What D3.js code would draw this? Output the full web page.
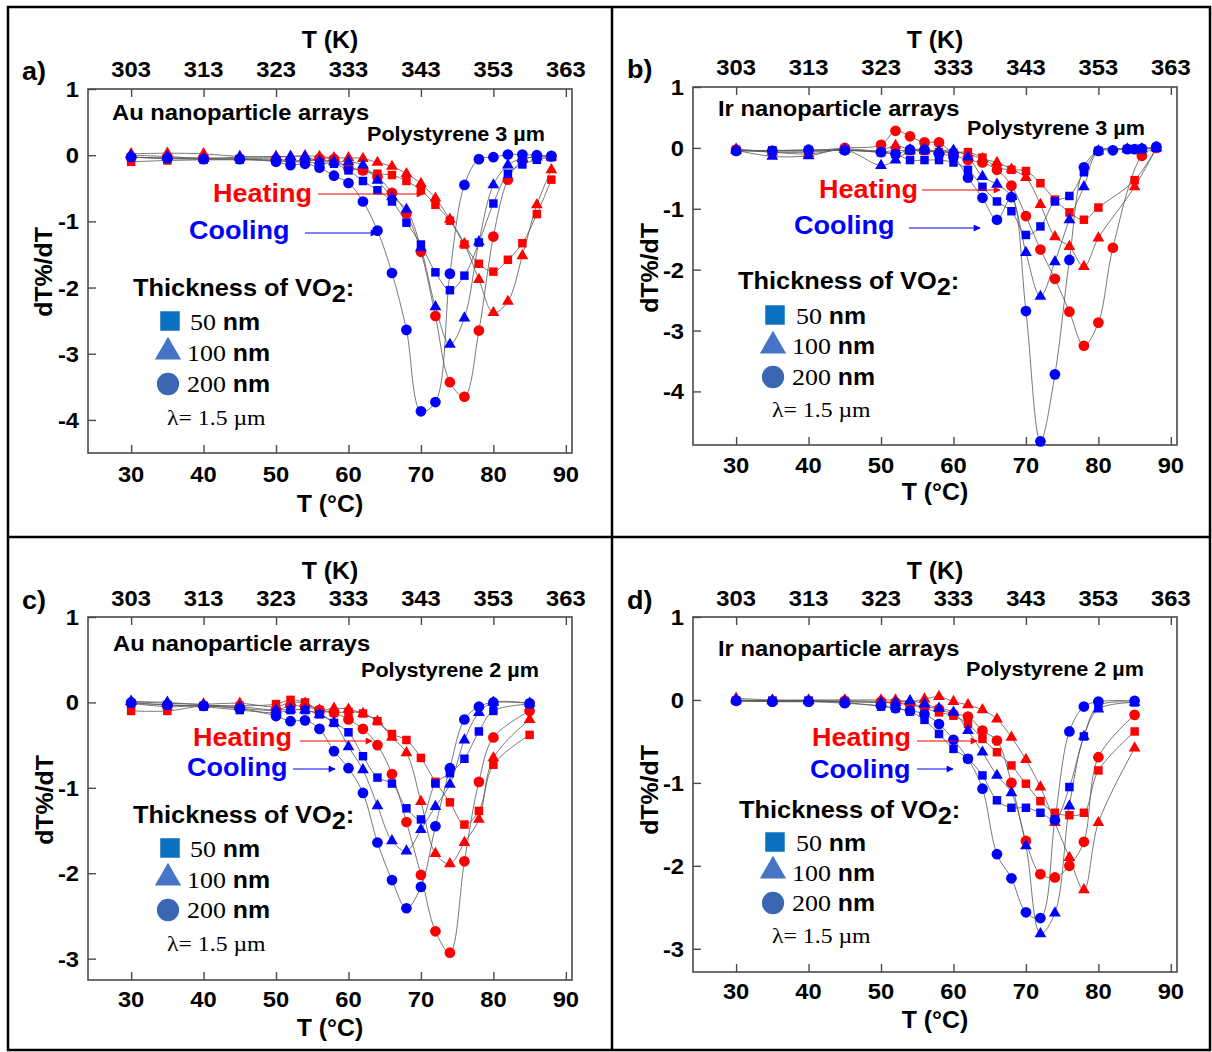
<!DOCTYPE html>
<html><head><meta charset="utf-8">
<script src="https://cdn.jsdelivr.net/npm/d3@7"></script>
<style>body{margin:0;background:#fff}svg{display:block}</style>
</head><body>
<script>
// ---------- DATA ----------
const celsiusTicks = [30,40,50,60,70,80,90];
const kelvinTicks = ["303","313","323","333","343","353","363"];

// Panel a: Au nanoparticle arrays, Polystyrene 3 µm
const tempsA = [30,35,40,45,50,52,54,56,58,60,62,64,66,68,70,72,74,76,78,80,82,84,86,88];
const aHeat50  = [-0.10,-0.08,-0.07,-0.07,-0.08,-0.09,-0.08,-0.08,-0.09,-0.18,-0.23,-0.28,-0.30,-0.39,-0.53,-0.75,-0.99,-1.35,-1.64,-1.76,-1.58,-1.33,-0.89,-0.37];
const aHeat100 = [0.02,0.03,0.02,-0.02,-0.02,-0.02,-0.01,-0.02,-0.04,-0.04,-0.05,-0.11,-0.17,-0.28,-0.43,-0.65,-0.97,-1.34,-1.88,-2.38,-2.21,-1.52,-0.75,-0.22];
const aHeat200 = [-0.03,-0.04,-0.04,-0.05,-0.06,-0.08,-0.09,-0.05,-0.06,-0.20,-0.23,-0.33,-0.57,-0.88,-1.46,-2.43,-3.43,-3.65,-2.65,-1.23,-0.37,-0.08,-0.02,-0.02];
const aCool50  = [-0.03,-0.05,-0.06,-0.06,-0.08,-0.10,-0.10,-0.12,-0.13,-0.23,-0.39,-0.53,-0.70,-1.02,-1.35,-1.77,-2.04,-1.82,-1.32,-0.73,-0.28,-0.14,-0.07,-0.03];
const aCool100 = [0.00,-0.02,-0.05,-0.03,-0.03,-0.02,-0.02,-0.09,-0.10,-0.10,-0.15,-0.38,-0.63,-0.82,-1.40,-2.29,-2.86,-2.46,-1.31,-0.45,-0.15,-0.05,-0.03,-0.03];
const aCool200 = [-0.03,-0.05,-0.06,-0.06,-0.10,-0.15,-0.13,-0.19,-0.31,-0.42,-0.70,-1.14,-1.78,-2.64,-3.87,-3.73,-1.79,-0.45,-0.06,-0.03,0.01,0.01,0.00,-0.01];

// Panel b: Ir nanoparticle arrays, Polystyrene 3 µm
const tempsB = [30,35,40,45,50,52,54,56,58,60,62,64,66,68,70,72,74,76,78,80,82,84,85,86,88];
const bHeat50  = [-0.03,-0.07,-0.07,-0.03,-0.07,-0.04,-0.05,-0.05,-0.07,-0.08,-0.07,-0.16,-0.32,-0.36,-0.38,-0.58,-0.85,-1.06,-1.18,-0.98,null,null,-0.53,null,0.00];
const bHeat100 = [-0.02,-0.07,-0.10,-0.02,-0.04,0.04,-0.03,-0.05,-0.05,-0.07,-0.10,-0.18,-0.24,-0.35,-0.49,-0.93,-1.46,-1.62,-1.95,-1.48,null,null,-0.64,null,0.00];
const bHeat200 = [-0.03,-0.05,-0.05,0.00,0.05,0.28,0.19,0.09,0.09,-0.10,-0.20,-0.24,-0.36,-0.62,-1.12,-1.67,-2.15,-2.69,-3.25,-2.87,-1.64,null,null,-0.13,0.00];
const bCool50  = [-0.05,-0.04,-0.04,-0.04,-0.07,-0.10,-0.20,-0.20,-0.20,-0.24,-0.36,-0.64,-0.88,-1.04,-1.43,-1.29,-0.88,-0.79,-0.40,-0.05,null,-0.02,null,-0.02,0.00];
const bCool100 = [-0.04,-0.14,-0.13,-0.03,-0.29,-0.20,-0.05,-0.03,-0.05,-0.04,-0.15,-0.47,-0.60,-0.80,-1.72,-2.44,-1.87,-1.18,-0.64,-0.05,null,-0.02,null,-0.02,0.00];
const bCool200 = [-0.05,-0.05,-0.03,-0.04,-0.07,-0.10,-0.03,-0.03,-0.10,-0.15,-0.49,-0.82,-1.18,-0.81,-2.68,-4.82,-3.72,-1.84,-0.32,-0.05,-0.04,-0.02,-0.02,-0.01,0.02];

// Panel c: Au nanoparticle arrays, Polystyrene 2 µm
const tempsC = [30,35,40,45,50,52,54,56,58,60,62,64,66,68,70,72,74,76,78,80,85];
const cHeat50  = [-0.10,-0.10,-0.04,-0.04,-0.02,0.03,0.00,-0.09,-0.12,-0.11,-0.13,-0.22,-0.37,-0.44,-0.65,-0.93,-1.17,-1.43,-1.27,-0.73,-0.38];
const cHeat100 = [0.01,-0.01,-0.02,-0.01,-0.05,0.00,-0.01,-0.09,-0.07,-0.08,-0.13,-0.22,-0.41,-0.59,-1.16,-1.77,-1.89,-1.64,-1.37,-0.65,-0.20];
const cHeat200 = [-0.01,-0.05,-0.04,-0.07,-0.09,-0.04,-0.05,-0.09,-0.12,-0.20,-0.31,-0.50,-0.84,-1.40,-2.02,-2.68,-2.93,-1.86,-0.93,-0.41,-0.10];
const cCool50  = [-0.01,-0.03,-0.05,-0.09,-0.12,-0.09,-0.09,-0.14,-0.24,-0.35,-0.63,-0.88,-0.95,-1.24,-1.37,-0.95,-0.83,-0.66,-0.34,-0.10,-0.02];
const cCool100 = [0.01,0.00,-0.03,-0.05,-0.09,-0.08,-0.09,-0.14,-0.24,-0.52,-0.79,-1.21,-1.62,-1.74,-1.49,-1.22,-0.96,-0.44,-0.12,0.00,-0.01];
const cCool200 = [0.00,-0.03,-0.04,-0.07,-0.16,-0.22,-0.21,-0.31,-0.57,-0.77,-1.06,-1.64,-2.08,-2.41,-2.16,-1.45,-0.77,-0.20,-0.05,0.00,-0.01];

// Panel d: Ir nanoparticle arrays, Polystyrene 2 µm
const tempsD = [30,35,40,45,50,52,54,56,58,60,62,64,66,68,70,72,74,76,78,80,85];
const dHeat50  = [-0.01,-0.01,-0.01,-0.02,-0.03,-0.04,-0.06,-0.10,-0.15,-0.19,-0.29,-0.47,-0.63,-0.79,-1.01,-1.22,-1.36,-1.39,-1.36,-0.85,-0.38];
const dHeat100 = [0.02,0.00,0.00,0.00,0.00,0.00,-0.02,0.01,0.04,-0.02,-0.06,-0.12,-0.23,-0.45,-0.72,-1.05,-1.48,-1.90,-2.29,-1.48,-0.58];
const dHeat200 = [-0.01,-0.02,-0.02,-0.01,-0.02,-0.03,-0.05,-0.08,-0.11,-0.17,-0.20,-0.37,-0.49,-1.00,-1.70,-2.10,-2.14,-2.00,-1.71,-0.69,-0.18];
const dCool50  = [-0.01,-0.01,-0.01,-0.03,-0.08,-0.10,-0.14,-0.24,-0.41,-0.59,-0.71,-0.91,-1.21,-1.30,-1.30,-1.36,-1.44,-1.05,-0.44,-0.07,-0.03];
const dCool100 = [0.00,-0.01,-0.01,-0.02,-0.03,-0.03,-0.01,-0.05,-0.10,-0.15,-0.37,-0.63,-0.91,-1.12,-1.76,-2.82,-2.57,-1.28,-0.44,-0.11,-0.03];
const dCool200 = [-0.01,-0.02,-0.02,-0.04,-0.07,-0.10,-0.13,-0.17,-0.29,-0.48,-0.71,-1.07,-1.86,-2.15,-2.56,-2.63,-1.45,-0.38,-0.08,-0.02,-0.01];

const thicknessLabels = ["50","100","200"];

// ---------- LAYOUT ----------
const W = 1212, H = 1052;
const SX = 1.08; // horizontal stretch of text in the reference
const svg = d3.select("body").append("svg").attr("width", W).attr("height", H);

const defs = svg.append("defs");
[["arrRed","#ff0000"],["arrBlue","#0000ff"]].forEach(([id,c])=>{
  defs.append("marker").attr("id",id).attr("viewBox","0 0 10 10").attr("refX",9).attr("refY",5)
    .attr("markerWidth",9).attr("markerHeight",7).attr("markerUnits","userSpaceOnUse").attr("orient","auto")
    .append("path").attr("d","M0,0 L10,5 L0,10 z").attr("fill",c);
});

// outer border and dividers
svg.append("rect").attr("x",8).attr("y",7).attr("width",1202).attr("height",1043)
  .attr("fill","none").attr("stroke","#000").attr("stroke-width",2.5);
svg.append("line").attr("x1",612).attr("x2",612).attr("y1",7).attr("y2",1050).attr("stroke","#000").attr("stroke-width",2.5);
svg.append("line").attr("x1",8).attr("x2",1210).attr("y1",537).attr("y2",537).attr("stroke","#000").attr("stroke-width",2.5);

const SANS = "'Liberation Sans', Arial, sans-serif";
const SERIF = "'Liberation Serif', 'Times New Roman', serif";

function txt(g, x, y, s, o={}) {
  const t = g.append("text")
    .attr("transform", `translate(${x},${y}) scale(${SX},1)`)
    .attr("font-family", o.family || SANS)
    .attr("font-weight", o.weight || "bold")
    .attr("font-size", o.size || 22)
    .attr("fill", o.fill || "#000")
    .attr("text-anchor", o.anchor || "start");
  if (s !== null) t.text(s);
  return t;
}

const panels = [
  { letter:"a)", temps:tempsA, heat:[aHeat50,aHeat100,aHeat200], cool:[aCool50,aCool100,aCool200],
    xr:[88,572], yr:[89,453], yd:[1,-4.5], yTicks:[1,0,-1,-2,-3,-4],
    np:"Au nanoparticle arrays", ps:"Polystyrene 3 µm",
    t:{letter:[22,80], tk:[330,48], topLab:77, botLab:482, tc:[330,512], yl:[44,272],
       np:[112,120], ps:[367,141], heat:[213,202], heatArr:[318,423,194], cool:[189,239], coolArr:[305,377,233],
       thick:[133,296], sq:[170,321], l50:[190,330], tri:[168,352], l100:[187,361], cir:[168,384], l200:[187,392], lam:[167,425]} },
  { letter:"b)", temps:tempsB, heat:[bHeat50,bHeat100,bHeat200], cool:[bCool50,bCool100,bCool200],
    xr:[693,1177], yr:[87,445], yd:[1,-4.88], yTicks:[1,0,-1,-2,-3,-4],
    np:"Ir nanoparticle arrays", ps:"Polystyrene 3 µm",
    t:{letter:[627,78], tk:[935,48], topLab:75, botLab:473, tc:[935,500], yl:[650,268],
       np:[718,116], ps:[967,135], heat:[819,198], heatArr:[922,1000,190], cool:[794,234], coolArr:[909,980,228],
       thick:[738,289], sq:[775,315], l50:[796,324], tri:[773,346], l100:[792,354], cir:[773,377], l200:[792,385], lam:[772,417]} },
  { letter:"c)", temps:tempsC, heat:[cHeat50,cHeat100,cHeat200], cool:[cCool50,cCool100,cCool200],
    xr:[88,572], yr:[617,980], yd:[1,-3.25], yTicks:[1,0,-1,-2,-3],
    np:"Au nanoparticle arrays", ps:"Polystyrene 2 µm",
    t:{letter:[22,609], tk:[330,579], topLab:606, botLab:1007, tc:[330,1036], yl:[45,800],
       np:[113,651], ps:[361,677], heat:[193,746], heatArr:[300,372,741], cool:[187,776], coolArr:[293,335,769],
       thick:[133,823], sq:[170,848], l50:[190,857], tri:[168,878], l100:[187,888], cir:[168,910], l200:[187,918], lam:[167,951]} },
  { letter:"d)", temps:tempsD, heat:[dHeat50,dHeat100,dHeat200], cool:[dCool50,dCool100,dCool200],
    xr:[693,1177], yr:[617,972], yd:[1,-3.28], yTicks:[1,0,-1,-2,-3],
    np:"Ir nanoparticle arrays", ps:"Polystyrene 2 µm",
    t:{letter:[627,609], tk:[935,579], topLab:606, botLab:999, tc:[935,1028], yl:[650,790],
       np:[718,656], ps:[966,676], heat:[812,746], heatArr:[917,977,741], cool:[810,778], coolArr:[917,953,769],
       thick:[739,818], sq:[775,842], l50:[796,851], tri:[773,871], l100:[792,881], cir:[773,903], l200:[792,911], lam:[772,943]} }
];

const symTypes = [d3.symbolSquare, d3.symbolTriangle, d3.symbolCircle];
const symSizes = [72, 60, 90];
const legendColors = ["#0a70c0", "#4674c6", "#3b66b2"];
const legendSizes = [380, 300, 390];

panels.forEach(p => {
  const g = svg.append("g");
  const x = d3.scaleLinear().domain([24.05, 90.85]).range(p.xr);
  const y = d3.scaleLinear().domain(p.yd).range(p.yr);
  const [x0,x1] = p.xr, [y0,y1] = p.yr;
  const T = p.t;

  // frame
  g.append("rect").attr("x",x0).attr("y",y0).attr("width",x1-x0).attr("height",y1-y0)
    .attr("fill","none").attr("stroke","#4a4a4a").attr("stroke-width",1.6);

  // axes with inward ticks
  const bot = g.append("g").attr("transform",`translate(0,${y1})`)
    .call(d3.axisTop(x).tickValues(celsiusTicks).tickSize(8).tickFormat(""));
  const top = g.append("g").attr("transform",`translate(0,${y0})`)
    .call(d3.axisBottom(x).tickValues(celsiusTicks).tickSize(8).tickFormat(""));
  const left = g.append("g").attr("transform",`translate(${x0},0)`)
    .call(d3.axisRight(y).tickValues(p.yTicks).tickSize(8).tickFormat(""));
  [bot,top,left].forEach(a=>{ a.select(".domain").remove(); a.selectAll("line").attr("stroke","#4a4a4a").attr("stroke-width",1.4); });

  // tick labels
  celsiusTicks.forEach((v,i)=>{
    txt(g, x(v), T.botLab, String(v), {anchor:"middle", size:22});
    txt(g, x(v), T.topLab, kelvinTicks[i], {anchor:"middle", size:22});
  });
  p.yTicks.forEach(v=>{
    txt(g, x0-9, y(v)+8, String(v), {anchor:"end", size:22});
  });

  // titles
  txt(g, T.letter[0], T.letter[1], p.letter, {size:25});
  txt(g, T.tk[0], T.tk[1], "T (K)", {anchor:"middle", size:23});
  txt(g, T.tc[0], T.tc[1], "T (°C)", {anchor:"middle", size:23});
  g.append("text").attr("transform",`translate(${T.yl[0]+8},${T.yl[1]}) rotate(-90) scale(${SX},1)`)
    .attr("font-family",SANS).attr("font-weight","bold").attr("font-size",23)
    .attr("text-anchor","middle").text("dT%/dT");

  // data lines
  const line = d3.line().x(d=>x(d[0])).y(d=>y(d[1])).curve(d3.curveCatmullRom.alpha(0.5));
  const toPts = arr => p.temps.map((t,i)=>[t,arr[i]]).filter(d=>d[1]!==null);
  const all = [...p.heat.map((s,i)=>({pts:toPts(s), k:i, c:"#ff0000"})),
               ...p.cool.map((s,i)=>({pts:toPts(s), k:i, c:"#0000ff"}))];
  all.forEach(s=>{
    g.append("path").attr("d",line(s.pts)).attr("fill","none").attr("stroke","#555").attr("stroke-width",0.8);
  });
  all.forEach(s=>{
    g.selectAll(null).data(s.pts).enter().append("path")
      .attr("transform",d=>`translate(${x(d[0])},${y(d[1])})`)
      .attr("d", d3.symbol().type(symTypes[s.k]).size(symSizes[s.k])())
      .attr("fill", s.c);
  });

  // annotations
  txt(g, T.np[0], T.np[1], p.np, {size:22});
  txt(g, T.ps[0], T.ps[1], p.ps, {size:20});
  txt(g, T.heat[0], T.heat[1], "Heating", {size:25, fill:"#ff0000"});
  txt(g, T.cool[0], T.cool[1], "Cooling", {size:25, fill:"#0000ff"});
  g.append("line").attr("x1",T.heatArr[0]).attr("x2",T.heatArr[1]).attr("y1",T.heatArr[2]).attr("y2",T.heatArr[2])
    .attr("stroke","#ff0000").attr("stroke-width",1.2).attr("marker-end","url(#arrRed)");
  g.append("line").attr("x1",T.coolArr[0]).attr("x2",T.coolArr[1]).attr("y1",T.coolArr[2]).attr("y2",T.coolArr[2])
    .attr("stroke","#0000ff").attr("stroke-width",1.2).attr("marker-end","url(#arrBlue)");

  // legend
  const th = txt(g, T.thick[0], T.thick[1], null, {size:23.5});
  th.append("tspan").text("Thickness of VO");
  th.append("tspan").attr("dy",6).text("2");
  th.append("tspan").attr("dy",-6).text(":");
  const pos = [[T.sq,T.l50],[T.tri,T.l100],[T.cir,T.l200]];
  pos.forEach(([m,l],i)=>{
    g.append("path").attr("transform",`translate(${m[0]},${m[1]})`)
      .attr("d", d3.symbol().type(symTypes[i]).size(legendSizes[i])()).attr("fill",legendColors[i]);
    const lt = txt(g, l[0], l[1], null, {size:23});
    lt.append("tspan").attr("font-family",SERIF).attr("font-weight","normal").attr("font-size",24).text(thicknessLabels[i]);
    lt.append("tspan").text(" nm");
  });
  txt(g, T.lam[0], T.lam[1], "λ= 1.5 µm", {family:SERIF, weight:"normal", size:22});
});
</script>
</body></html>
